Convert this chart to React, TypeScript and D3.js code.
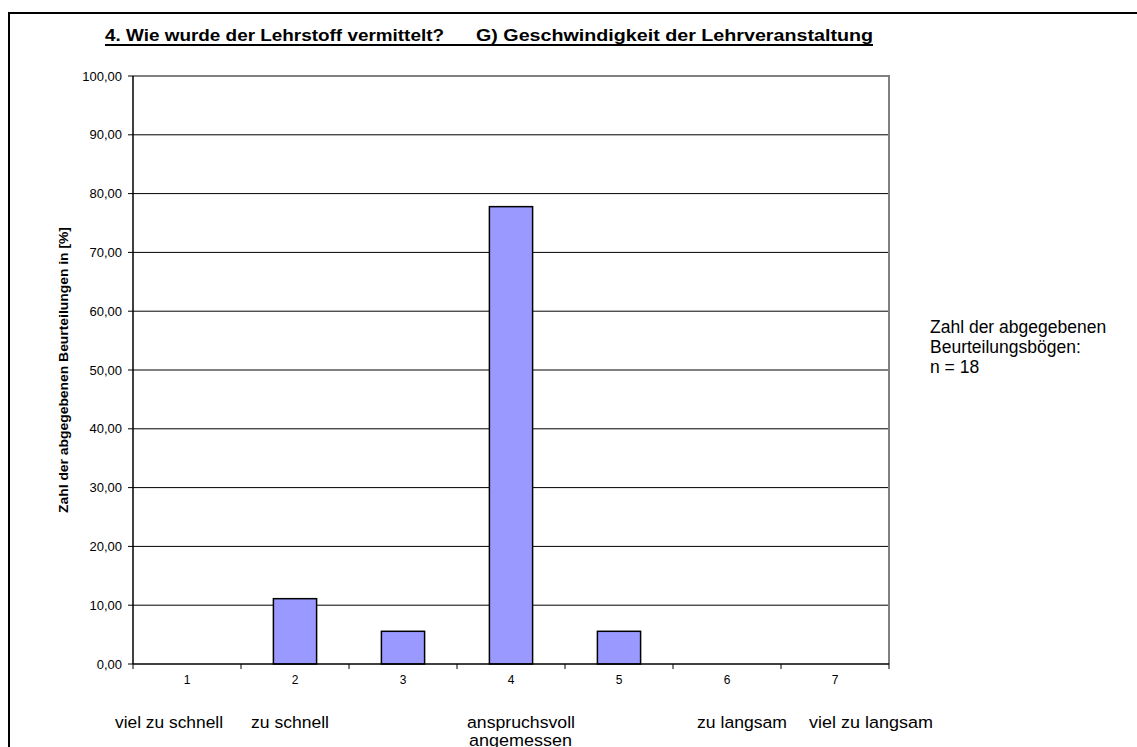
import React from "react";
import * as d3 from "d3";

const categories = ["1", "2", "3", "4", "5", "6", "7"];
const values = [0, 11.11, 5.56, 77.78, 5.56, 0, 0];
const yTicks = [0, 10, 20, 30, 40, 50, 60, 70, 80, 90, 100];
const categoryNames: string[][] = [
  ["viel zu schnell"],
  ["zu schnell"],
  [],
  ["anspruchsvoll", "angemessen"],
  [],
  ["zu langsam"],
  ["viel zu langsam"],
];
const titleParts = ["4. Wie wurde der Lehrstoff vermittelt?", "G) Geschwindigkeit der Lehrveranstaltung"];
const yAxisTitle = "Zahl der abgegebenen Beurteilungen in [%]";
const noteLines = ["Zahl der abgegebenen", "Beurteilungsbögen:", "n = 18"];

// layout (pixel placement of the free text cells)
const nameLayout: { x: number; w: number }[][] = [
  [{ x: 115, w: 108 }],
  [{ x: 251, w: 78 }],
  [],
  [{ x: 467, w: 108 }, { x: 469, w: 103 }],
  [],
  [{ x: 697, w: 90 }],
  [{ x: 809, w: 124 }],
];
const titleLayout = [
  { x: 105, w: 339 },
  { x: 476, w: 397 },
];

export default function App() {
  const W = 1137, H = 747;
  const left = 133, right = 889, top = 76, bottom = 664;
  const x = d3.scaleBand<string>().domain(categories).range([left, right]).paddingInner(0).paddingOuter(0);
  const y = d3.scaleLinear().domain([0, 100]).range([bottom, top]);
  const bw = x.bandwidth();
  const barW = bw * 0.4;
  const fmt = (v: number) => v.toFixed(2).replace(".", ",");
  const font = "Arial, 'Liberation Sans', sans-serif";

  return (
    <svg width={W} height={H} style={{ position: "absolute", left: 0, top: 0 }} fontFamily={font}>
      <rect x={0} y={0} width={W} height={H} fill="#fff" />
      {/* outer frame */}
      <path d={`M9,${H + 5} L9,13 L${W + 5},13`} fill="none" stroke="#000" strokeWidth={2} />
      {/* title */}
      {titleParts.map((t, i) => (
        <text
          key={t}
          x={titleLayout[i].x}
          y={41}
          fontSize={17}
          fontWeight="bold"
          textLength={titleLayout[i].w}
          lengthAdjust="spacingAndGlyphs"
        >
          {t}
        </text>
      ))}
      <line
        x1={titleLayout[0].x}
        x2={titleLayout[1].x + titleLayout[1].w}
        y1={45}
        y2={45}
        stroke="#000"
        strokeWidth={2}
      />
      {/* gridlines */}
      {yTicks.slice(1, -1).map((t) => (
        <line key={t} x1={left} x2={right} y1={y(t)} y2={y(t)} stroke="#000" strokeWidth={1} />
      ))}
      {/* plot border top/right */}
      <path d={`M${left},${y(100)} L${right},${y(100)} L${right},${bottom}`} fill="none" stroke="#808080" strokeWidth={2} />
      {/* bars */}
      {values.map((v, i) =>
        v > 0 ? (
          <rect
            key={i}
            x={(x(categories[i]) as number) + (bw - barW) / 2}
            y={y(v)}
            width={barW}
            height={bottom - y(v)}
            fill="#9999FF"
            stroke="#000"
            strokeWidth={1.5}
          />
        ) : null
      )}
      {/* y axis */}
      <line x1={left} x2={left} y1={top} y2={bottom} stroke="#000" strokeWidth={1.5} />
      {yTicks.map((t) => (
        <g key={t}>
          <line x1={left - 5} x2={left} y1={y(t)} y2={y(t)} stroke="#000" strokeWidth={1} />
          <text x={122} y={y(t) + 4.5} textAnchor="end" fontSize={13}>
            {fmt(t)}
          </text>
        </g>
      ))}
      {/* x axis */}
      <line x1={left} x2={right} y1={bottom} y2={bottom} stroke="#000" strokeWidth={1.5} />
      {categories.map((c, i) => (
        <line key={"t" + i} x1={x(c) as number} x2={x(c) as number} y1={bottom} y2={bottom + 5} stroke="#000" strokeWidth={1} />
      ))}
      <line x1={right} x2={right} y1={bottom} y2={bottom + 5} stroke="#000" strokeWidth={1} />
      {categories.map((c) => (
        <text key={"l" + c} x={(x(c) as number) + bw / 2} y={bottom + 20} textAnchor="middle" fontSize={12}>
          {c}
        </text>
      ))}
      {/* category names */}
      {categoryNames.map((lines, i) =>
        lines.map((ln, j) => (
          <text
            key={i + "-" + j}
            x={nameLayout[i][j].x}
            y={728 + j * 18}
            fontSize={17.4}
            textLength={nameLayout[i][j].w}
            lengthAdjust="spacingAndGlyphs"
          >
            {ln}
          </text>
        ))
      )}
      {/* y axis title */}
      <text
        transform={`translate(68,370) rotate(-90)`}
        textAnchor="middle"
        fontSize={12.5}
        fontWeight="bold"
        textLength={286}
        lengthAdjust="spacingAndGlyphs"
      >
        {yAxisTitle}
      </text>
      {/* note */}
      {noteLines.map((ln, i) => (
        <text key={ln} x={930} y={333 + i * 20} fontSize={17.5}>
          {ln}
        </text>
      ))}
    </svg>
  );
}
